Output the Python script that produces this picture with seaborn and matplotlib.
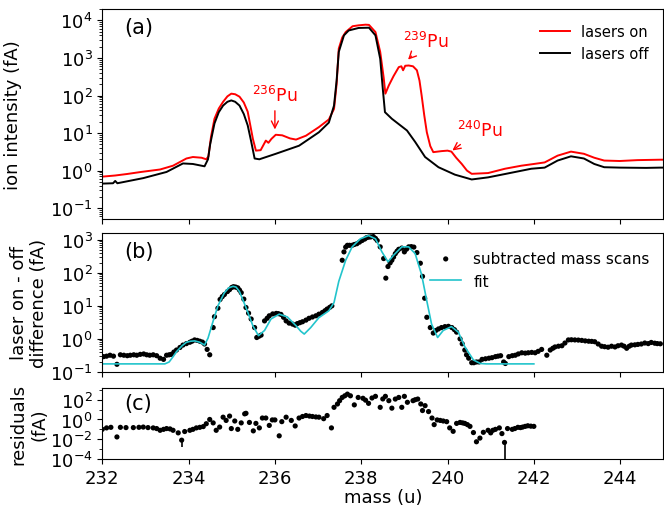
import matplotlib
matplotlib.use("Agg")
import matplotlib.pyplot as plt
import seaborn as sns
import pandas as pd
from matplotlib.ticker import LogLocator, NullFormatter

# (a) lasers on / lasers off ion intensity (fA)
on_mass = [232.0, 232.3, 232.57, 232.9, 233.34, 233.64, 233.95, 234.1, 234.3, 234.41,
           234.46, 234.52, 234.6, 234.7, 234.8, 234.9, 234.99, 235.08, 235.18, 235.28,
           235.37, 235.49, 235.56, 235.67, 235.79, 235.85, 235.92, 236.02, 236.17, 236.35,
           236.49, 236.72, 237.02, 237.25, 237.37, 237.43, 237.48, 237.56, 237.64, 237.8,
           237.94, 238.1, 238.18, 238.33, 238.44, 238.52, 238.56, 238.64, 238.75, 238.87,
           238.93, 238.97, 239.02, 239.1, 239.2, 239.29, 239.35, 239.4, 239.46, 239.52,
           239.6, 239.67, 239.86, 240.0, 240.09, 240.2, 240.33, 240.45, 240.56, 240.94,
           241.33, 241.71, 242.0, 242.25, 242.55, 242.86, 243.16, 243.4, 243.63, 243.99,
           244.4, 244.93, 245.0]
on_val = [0.69, 0.74, 0.81, 0.92, 1.07, 1.35, 2.1, 2.3, 2.2, 2.0,
          2.4, 8.0, 24, 45, 68, 95, 112, 108, 93, 65,
          37, 7.0, 3.4, 3.5, 6.3, 5.5, 7.0, 9.0, 8.7, 7.2,
          6.7, 8.5, 14.4, 23, 44, 200, 1780, 3500, 4900, 7000,
          7400, 7700, 7600, 4900, 1450, 300, 112, 186, 330, 570,
          600, 470, 620, 630, 600, 470, 250, 100, 30, 10.5,
          4.5, 3.1, 3.3, 3.4, 3.2, 2.2, 1.5, 1.0, 0.82, 0.86,
          1.12, 1.35, 1.5, 1.65, 2.5, 3.2, 2.8, 2.2, 1.85, 1.8,
          1.9, 1.95, 1.95]

off_mass = [232.0, 232.25, 232.3, 232.35, 232.95, 233.49, 233.87, 234.1, 234.37, 234.45,
            234.5, 234.6, 234.7, 234.8, 234.9, 234.99, 235.08, 235.18, 235.28, 235.37,
            235.45, 235.53, 235.64, 236.02, 236.56, 237.02, 237.25, 237.37, 237.43, 237.48,
            237.6, 237.71, 237.94, 238.18, 238.33, 238.44, 238.5, 238.55, 238.71, 239.06,
            239.25, 239.48, 239.79, 240.17, 240.56, 240.94, 241.33, 241.94, 242.25, 242.55,
            242.86, 243.16, 243.4, 243.63, 243.99, 244.6, 244.93, 245.0]
off_val = [0.45, 0.46, 0.53, 0.46, 0.63, 0.92, 1.55, 1.5, 1.3, 2.0,
           5.0, 18, 36, 54, 68, 74, 68, 54, 32, 16,
           6.0, 2.1, 2.0, 2.8, 4.6, 10.5, 19, 54, 250, 1450,
           4000, 5400, 6300, 6400, 4000, 950, 150, 36, 24, 11.7,
           5.8, 2.3, 1.23, 0.78, 0.58, 0.66, 0.81, 1.12, 1.2, 1.85,
           2.4, 2.1, 1.5, 1.23, 1.2, 1.18, 1.2, 1.2]

# (b) subtracted mass scans (fA)
diff_mass = [232.03, 232.1, 232.18, 232.26, 232.34, 232.42, 232.5, 232.58, 232.65, 232.73,
             232.8, 232.88, 232.96, 233.03, 233.1, 233.18, 233.26, 233.34, 233.42, 233.49,
             233.55, 233.6, 233.66, 233.72, 233.8, 233.87, 233.95, 234.03, 234.08, 234.14,
             234.2, 234.26, 234.32, 234.37, 234.43, 234.49, 234.57, 234.6, 234.68, 234.73,
             234.78, 234.83, 234.9, 234.95, 235.0, 235.04, 235.09, 235.14, 235.18, 235.22,
             235.28, 235.33, 235.39, 235.45, 235.53, 235.58, 235.63, 235.68, 235.76, 235.82,
             235.87, 235.95, 236.03, 236.08, 236.14, 236.2, 236.26, 236.33, 236.41, 236.47,
             236.52, 236.58, 236.64, 236.72, 236.79, 236.87, 236.95, 237.02, 237.1, 237.16,
             237.21, 237.27, 237.32, 237.56, 237.6, 237.64, 237.68, 237.73, 237.79, 237.84,
             237.9, 237.96, 238.02, 238.08, 238.12, 238.17, 238.22, 238.28, 238.33, 238.37,
             238.44, 238.52, 238.57, 238.62, 238.67, 238.71, 238.75, 238.79, 238.83, 238.87,
             238.94, 239.0, 239.05, 239.1, 239.16, 239.22, 239.29, 239.37, 239.42, 239.47,
             239.52, 239.6, 239.67, 239.73, 239.79, 239.86, 239.94, 240.02, 240.1, 240.16,
             240.21, 240.29, 240.34, 240.4, 240.44, 240.49, 240.56, 240.61, 240.67, 240.73,
             240.8, 240.88, 240.96, 241.03, 241.11, 241.17, 241.23, 241.3, 241.34, 241.42,
             241.5, 241.57, 241.64, 241.72, 241.8, 241.87, 241.95, 242.03, 242.1, 242.18,
             242.3, 242.38, 242.44, 242.49, 242.57, 242.65, 242.72, 242.8, 242.87, 242.95,
             243.03, 243.11, 243.19, 243.27, 243.34, 243.41, 243.49, 243.57, 243.64, 243.72,
             243.8, 243.88, 243.95, 244.03, 244.09, 244.15, 244.21, 244.26, 244.34, 244.41,
             244.49, 244.57, 244.65, 244.72, 244.8, 244.86, 244.93]
diff_val = [0.29, 0.30, 0.32, 0.30, 0.17, 0.33, 0.32, 0.31, 0.32, 0.33,
            0.32, 0.34, 0.35, 0.33, 0.32, 0.33, 0.31, 0.26, 0.24, 0.32,
            0.33, 0.34, 0.40, 0.46, 0.55, 0.65, 0.72, 0.79, 0.85, 0.93,
            0.90, 0.85, 0.80, 0.70, 0.48, 0.33, 2.2, 4.7, 8.5, 15.6,
            19, 22, 27, 31, 36, 38, 37, 35, 30, 25,
            16, 8.9, 6.0, 4.0, 2.2, 1.1, 1.2, 1.3, 3.5, 4.2,
            5.0, 5.7, 5.9, 5.8, 5.5, 4.5, 3.5, 3.0, 2.8, 2.6,
            2.9, 3.1, 3.3, 3.7, 4.2, 4.6, 5.0, 5.6, 6.3, 7.1,
            8.0, 9.0, 10, 240, 430, 600, 680, 680, 680, 720,
            760, 850, 950, 1050, 1150, 1200, 1220, 1250, 1100, 950,
            610, 270, 69, 155, 200, 240, 300, 380, 450, 515,
            560, 430, 520, 610, 620, 600, 410, 195, 78, 17,
            4.5, 2.2, 1.5, 1.8, 2.0, 2.2, 2.35, 2.4, 2.2, 1.9,
            1.6, 1.0, 0.71, 0.46, 0.33, 0.26, 0.19, 0.19, 0.20, 0.20,
            0.24, 0.25, 0.26, 0.27, 0.29, 0.30, 0.31, 0.20, 0.18, 0.29,
            0.31, 0.32, 0.35, 0.38, 0.37, 0.38, 0.39, 0.38, 0.42, 0.48,
            0.32, 0.46, 0.52, 0.57, 0.60, 0.62, 0.75, 0.93, 0.94, 0.93,
            0.92, 0.90, 0.87, 0.85, 0.84, 0.82, 0.70, 0.60, 0.58, 0.56,
            0.60, 0.57, 0.62, 0.65, 0.60, 0.52, 0.60, 0.65, 0.66, 0.68,
            0.70, 0.75, 0.72, 0.78, 0.74, 0.72, 0.71]

fit_mass = [232.0, 233.45, 233.55, 233.65, 233.72, 233.85, 233.95, 234.05, 234.14, 234.26,
            234.37, 234.45, 234.57, 234.68, 234.83, 234.93, 235.03, 235.1, 235.18, 235.33,
            235.49, 235.62, 235.76, 235.91, 236.1, 236.29, 236.49, 236.6, 236.68, 236.83,
            237.02, 237.25, 237.37, 237.48, 237.64, 237.79, 237.98, 238.17, 238.33, 238.48,
            238.62, 238.75, 238.94, 239.1, 239.25, 239.4, 239.52, 239.63, 239.77, 239.9,
            240.09, 240.25, 240.4, 240.6, 240.76, 240.9, 242.0]
fit_val = [0.175, 0.175, 0.2, 0.3, 0.41, 0.62, 0.79, 0.85, 0.87, 0.79,
           0.65, 1.05, 3.5, 10, 25, 35, 39, 37, 27, 8.9,
           2.5, 1.25, 1.8, 4.0, 5.6, 4.6, 2.5, 1.7, 1.4, 2.2,
           4.4, 7.1, 12.6, 55, 240, 610, 1070, 1340, 1070, 430,
           215, 340, 610, 610, 380, 87, 14, 2.8, 1.1, 1.8,
           2.35, 1.6, 0.58, 0.23, 0.18, 0.175, 0.175]

# (c) residuals (fA)
res_mass = [232.0, 232.1, 232.2, 232.34, 232.42, 232.55, 232.72, 232.85, 232.95, 233.06,
            233.18, 233.26, 233.34, 233.42, 233.49, 233.57, 233.64, 233.76, 233.84, 233.91,
            234.03, 234.1, 234.18, 234.26, 234.34, 234.41, 234.49, 234.57, 234.64, 234.72,
            234.8, 234.87, 234.95, 234.99, 235.07, 235.14, 235.22, 235.3, 235.33, 235.41,
            235.5, 235.56, 235.64, 235.71, 235.79, 235.87, 235.94, 236.0, 236.1, 236.16,
            236.26, 236.38, 236.47, 236.56, 236.64, 236.72, 236.8, 236.87, 236.95, 237.02,
            237.13, 237.21, 237.31, 237.37, 237.45, 237.5, 237.56, 237.62, 237.68, 237.75,
            237.84, 237.93, 238.04, 238.1, 238.17, 238.25, 238.33, 238.44, 238.5, 238.56,
            238.64, 238.71, 238.79, 238.87, 238.94, 239.0, 239.07, 239.2, 239.25, 239.31,
            239.38, 239.42, 239.48, 239.56, 239.64, 239.69, 239.76, 239.83, 239.9, 239.98,
            240.05, 240.13, 240.21, 240.29, 240.35, 240.4, 240.46, 240.52, 240.6, 240.67,
            240.75, 240.83, 240.94, 241.0, 241.05, 241.11, 241.2, 241.26, 241.32, 241.39,
            241.5, 241.56, 241.63, 241.69, 241.74, 241.8, 241.86, 241.93, 242.0]
res_val = [0.10, 0.14, 0.16, 0.017, 0.16, 0.15, 0.15, 0.16, 0.17, 0.15,
           0.14, 0.12, 0.08, 0.10, 0.12, 0.11, 0.08, 0.044, 0.008, 0.06,
           0.08, 0.10, 0.14, 0.16, 0.19, 0.37, 1.0, 0.45, 0.08, 0.17,
           1.7, 0.8, 2.2, 0.12, 0.7, 0.10, 0.45, 3.7, 4.2, 0.5,
           0.07, 0.4, 0.14, 1.4, 1.4, 0.25, 0.9, 0.9, 0.022, 0.6,
           1.7, 0.8, 0.22, 1.4, 2.0, 2.5, 2.2, 2.0, 1.8, 1.7,
           1.2, 2.5, 0.14, 17, 37, 80, 170, 250, 370, 250,
           30, 170, 140, 90, 43, 150, 220, 17, 120, 220,
           80, 14, 117, 170, 17, 220, 55, 80, 100, 117,
           37, 8, 25, 6.3, 1.4, 0.3, 0.9, 0.8, 0.7, 0.6,
           0.14, 0.063, 0.4, 0.5, 0.45, 0.4, 0.3, 0.2, 0.047, 0.0055,
           0.013, 0.05, 0.08, 0.044, 0.08, 0.10, 0.14, 0.037, 0.0047, 0.12,
           0.10, 0.12, 0.16, 0.15, 0.17, 0.2, 0.23, 0.21, 0.2]

# the two points drawn with a lower error bar in (c)
err_mass = [233.84, 241.32]
err_top = [0.008, 0.0047]
err_low = [0.0018, 0.00005]

plt.rcParams["font.family"] = ["DejaVu Sans"]
plt.rcParams["font.size"] = 13

fig = plt.figure(figsize=(6.64, 5.06), dpi=100)
ax1 = fig.add_axes([0.154, 0.565, 0.845, 0.415])
ax2 = fig.add_axes([0.154, 0.263, 0.845, 0.2745], sharex=ax1)
ax3 = fig.add_axes([0.154, 0.091, 0.845, 0.140], sharex=ax1)

on_df = pd.DataFrame({"mass": on_mass, "intensity": on_val})
off_df = pd.DataFrame({"mass": off_mass, "intensity": off_val})
sns.lineplot(data=on_df, x="mass", y="intensity", ax=ax1, color="red", lw=1.4,
             label="lasers on", sort=False)
sns.lineplot(data=off_df, x="mass", y="intensity", ax=ax1, color="black", lw=1.4,
             label="lasers off", sort=False)
ax1.set_yscale("log")
ax1.set_ylim(0.051, 2.0e4)
ax1.set_ylabel("ion intensity (fA)", fontsize=13)
ax1.legend(loc="upper right", frameon=False, fontsize=10.5, handlelength=2.0,
           borderaxespad=0.6)
ax1.text(0.04, 0.915, "(a)", transform=ax1.transAxes, fontsize=15,
         ha="left", va="center")

arrow = dict(arrowstyle="->", color="red", lw=1)
ax1.annotate("$^{236}$Pu", xy=(236.0, 10.5), xytext=(236.0, 55), color="red",
             fontsize=12.5, ha="center", va="bottom", arrowprops=arrow)
ax1.annotate("$^{239}$Pu", xy=(239.04, 800), xytext=(239.5, 1500), color="red",
             fontsize=12.5, ha="center", va="bottom", arrowprops=arrow)
ax1.annotate("$^{240}$Pu", xy=(240.06, 3.1), xytext=(240.75, 6.5), color="red",
             fontsize=12.5, ha="center", va="bottom", arrowprops=arrow)

diff_df = pd.DataFrame({"mass": diff_mass, "diff": diff_val})
fit_df = pd.DataFrame({"mass": fit_mass, "fit": fit_val})
sns.scatterplot(data=diff_df, x="mass", y="diff", ax=ax2, color="black", s=14,
                edgecolor="none", label="subtracted mass scans")
sns.lineplot(data=fit_df, x="mass", y="fit", ax=ax2, color="#22c4cc", lw=1.2,
             label="fit")
ax2.set_yscale("log")
ax2.set_ylim(0.1, 1600)
ax2.set_ylabel("laser on - off\ndifference (fA)", fontsize=13)
ax2.legend(loc="upper right", frameon=False, fontsize=11, bbox_to_anchor=(1.0, 0.97),
           handlelength=2.0)
ax2.text(0.04, 0.87, "(b)", transform=ax2.transAxes, fontsize=15,
         ha="left", va="center")

res_df = pd.DataFrame({"mass": res_mass, "res": res_val})
ax3.vlines(err_mass, err_low, err_top, color="black", lw=1.2)
sns.scatterplot(data=res_df, x="mass", y="res", ax=ax3, color="black", s=14,
                edgecolor="none")
ax3.set_yscale("log")
ax3.set_ylim(1e-4, 1.5e3)
ax3.set_yticks([1e-4, 1e-2, 1e0, 1e2])
ax3.set_yticks([1e-3, 1e-1, 1e1, 1e3], minor=True)
ax3.yaxis.set_minor_formatter(NullFormatter())
ax3.set_ylabel("residuals\n(fA)", fontsize=13)
ax3.set_xlabel("mass (u)", fontsize=13, labelpad=1)
ax3.text(0.04, 0.79, "(c)", transform=ax3.transAxes, fontsize=15,
         ha="left", va="center")

for ax in (ax1, ax2):
    ax.yaxis.set_major_locator(LogLocator(base=10, numticks=20))
    ax.yaxis.set_minor_locator(LogLocator(base=10, subs=range(2, 10), numticks=20))
    ax.yaxis.set_minor_formatter(NullFormatter())

ax1.set_xlim(232, 245)
ax3.set_xticks([232, 234, 236, 238, 240, 242, 244])
for ax in (ax1, ax2):
    ax.set_xlabel("")
    ax.tick_params(labelbottom=False)
for ax in (ax1, ax2, ax3):
    ax.tick_params(axis="both", which="major", labelsize=13)

ax1.yaxis.set_label_coords(-0.143, 0.5)
ax2.yaxis.set_label_coords(-0.096, 0.5)
ax3.yaxis.set_label_coords(-0.096, 0.5)

fig.savefig("out.png", dpi=100)
